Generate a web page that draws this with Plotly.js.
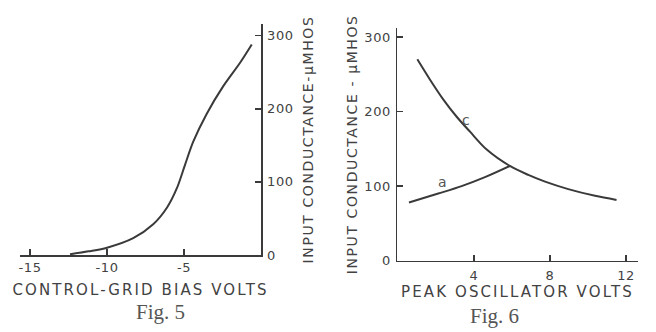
<!DOCTYPE html>
<html>
<head>
<meta charset="utf-8">
<script src="https://cdn.plot.ly/plotly-3.0.1.min.js"></script>
<style>
  html, body { margin: 0; padding: 0; background: #ffffff; }
  #chart { width: 656px; height: 332px; }
  .xtitle, .x2title { letter-spacing: 2.1px; }
  .ytitle, .y2title { letter-spacing: 1.6px; }
  .xtick text, .x2tick text, .ytick text, .y2tick text { letter-spacing: 0.6px; }
</style>
</head>
<body>
<div id="chart"></div>
<script>
// ---- Fig. 5 : input conductance vs control-grid bias ----
const fig5Bias = [-12.4, -11.2, -10.0, -8.3, -7.0, -6.1, -5.47, -4.94, -4.4, -3.53, -2.45, -1.36, -0.6];
const fig5Conductance = [1, 5, 10, 23, 42, 65, 91, 123, 155, 193, 231, 263, 288];
const fig5XTicks = [-15, -10, -5];
const fig5XTickText = ["-15", "-10", "-5"];
const fig5YTicks = [0, 100, 200, 300];
const fig5YTickText = ["0", "100", "200", "300"];

// ---- Fig. 6 : input conductance vs peak oscillator volts ----
const curveCVolts = [1.02, 1.68, 2.39, 3.09, 3.79, 4.67, 5.89, 6.86, 7.74, 8.96, 10.37, 11.5];
const curveCConductance = [270, 243, 216, 193, 173, 149, 127, 115, 106, 96, 87, 81.5];
const curveAVolts = [0.58, 2.12, 3.35, 4.58, 5.89];
const curveAConductance = [78, 90, 100, 112, 127];
const fig6XTicks = [4, 8, 12];
const fig6XTickText = ["4", "8", "12"];
const fig6YTicks = [0, 100, 200, 300];
const fig6YTickText = ["0", "100", "200", "300"];

const INK = '#3a3a3a';
const TEXT = '#424242';

const traces = [
  { x: fig5Bias, y: fig5Conductance, xaxis: 'x', yaxis: 'y', mode: 'lines',
    line: { shape: 'spline', smoothing: 0.9, color: INK, width: 2 }, hoverinfo: 'skip' },
  { x: curveCVolts, y: curveCConductance, xaxis: 'x2', yaxis: 'y2', mode: 'lines',
    line: { shape: 'spline', smoothing: 0.9, color: INK, width: 2 }, hoverinfo: 'skip' },
  { x: curveAVolts, y: curveAConductance, xaxis: 'x2', yaxis: 'y2', mode: 'lines',
    line: { shape: 'spline', smoothing: 0.9, color: INK, width: 2 }, hoverinfo: 'skip' }
];

const axisCommon = {
  showline: true, linecolor: INK, linewidth: 1.5,
  ticks: 'inside', ticklen: 6, tickwidth: 1.5, tickcolor: INK,
  showgrid: false, zeroline: false, fixedrange: true,
  tickfont: { family: 'DejaVu Sans', size: 13, color: TEXT },
  automargin: false
};

const layout = {
  width: 656, height: 332,
  margin: { l: 0, r: 0, t: 0, b: 0, pad: 0 },
  paper_bgcolor: '#ffffff', plot_bgcolor: 'rgba(0,0,0,0)',
  showlegend: false,
  font: { family: 'DejaVu Sans', color: TEXT },
  xaxis: Object.assign({}, axisCommon, {
    domain: [20 / 656, 261 / 656], range: [-15.65, 0], anchor: 'y',
    tickvals: fig5XTicks, ticktext: fig5XTickText, ticklabelstandoff: 0,
    title: { text: 'CONTROL-GRID BIAS VOLTS', font: { family: 'DejaVu Sans', size: 15, color: TEXT }, standoff: 10 }
  }),
  yaxis: Object.assign({}, axisCommon, {
    domain: [77 / 332, 308 / 332], range: [0, 316], anchor: 'x', side: 'right',
    tickvals: fig5YTicks, ticktext: fig5YTickText, ticklabelstandoff: 2,
    title: { text: 'INPUT CONDUCTANCE-µMHOS', font: { family: 'DejaVu Sans', size: 14, color: TEXT }, standoff: 10 }
  }),
  xaxis2: Object.assign({}, axisCommon, {
    domain: [397 / 656, 638 / 656], range: [-0.05, 12.63], anchor: 'y2',
    tickvals: fig6XTicks, ticktext: fig6XTickText, ticklabelstandoff: 2,
    title: { text: 'PEAK OSCILLATOR VOLTS', font: { family: 'DejaVu Sans', size: 15, color: TEXT }, standoff: 0 }
  }),
  yaxis2: Object.assign({}, axisCommon, {
    domain: [71.3 / 332, 304 / 332], range: [0, 312], anchor: 'x2', side: 'left',
    tickvals: fig6YTicks, ticktext: fig6YTickText, ticklabelstandoff: 2,
    title: { text: 'INPUT CONDUCTANCE - µMHOS', font: { family: 'DejaVu Sans', size: 14, color: TEXT }, standoff: 3 }
  }),
  annotations: [
    { text: 'c', x: 3.58, y: 189, xref: 'x2', yref: 'y2', showarrow: false,
      font: { family: 'DejaVu Sans', size: 14, color: '#555' } },
    { text: 'a', x: 2.35, y: 105, xref: 'x2', yref: 'y2', showarrow: false,
      font: { family: 'DejaVu Sans', size: 14, color: '#555' } },
    { text: 'Fig. 5', x: 160 / 656, y: (332 - 312) / 332, xref: 'paper', yref: 'paper',
      xanchor: 'center', yanchor: 'middle', showarrow: false,
      font: { family: 'Liberation Serif', size: 21, color: '#555' } },
    { text: 'Fig. 6', x: 494 / 656, y: (332 - 316) / 332, xref: 'paper', yref: 'paper',
      xanchor: 'center', yanchor: 'middle', showarrow: false,
      font: { family: 'Liberation Serif', size: 21, color: '#555' } }
  ]
};

Plotly.newPlot('chart', traces, layout, { staticPlot: true, displayModeBar: false, responsive: false });
</script>
</body>
</html>
